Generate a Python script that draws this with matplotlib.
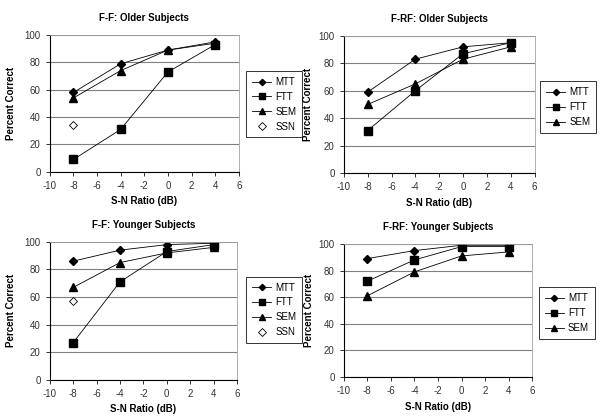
import numpy as np
import matplotlib
matplotlib.use("Agg")
import matplotlib.pyplot as plt

plt.rcParams['font.family'] = ['Liberation Sans', 'DejaVu Sans']
plt.rcParams['axes.unicode_minus'] = False

snr = [-8, -4, 0, 4]

# F-F older
ffo_mtt = [58, 79, 89, 95]
ffo_ftt = [9, 31, 73, 93]
ffo_sem = [54, 74, 89, 94]
ffo_ssn = 34

# F-RF older
fro_mtt = [59, 83, 92, 95]
fro_ftt = [31, 60, 87, 95]
fro_sem = [50, 65, 83, 92]

# F-F younger
ffy_mtt = [86, 94, 98, 99]
ffy_ftt = [27, 71, 93, 98]
ffy_sem = [67, 85, 92, 96]
ffy_ssn = 57

# F-RF younger
fry_mtt = [89, 95, 99, 99]
fry_ftt = [72, 88, 98, 98]
fry_sem = [61, 79, 91, 94]

titles = ["F-F: Older Subjects", "F-RF: Older Subjects",
          "F-F: Younger Subjects", "F-RF: Younger Subjects"]

fig = plt.figure(figsize=(6, 4.17), dpi=100)

axpos = [[0.083, 0.588, 0.315, 0.328],
         [0.573, 0.585, 0.318, 0.329],
         [0.083, 0.089, 0.312, 0.331],
         [0.573, 0.096, 0.314, 0.319]]
legpos = [(0.41, 0.75), (0.9, 0.743), (0.41, 0.257), (0.898, 0.249)]
ylab_x = [-0.18, -0.16, -0.18, -0.16]

series = [(ffo_mtt, ffo_ftt, ffo_sem, ffo_ssn),
          (fro_mtt, fro_ftt, fro_sem, None),
          (ffy_mtt, ffy_ftt, ffy_sem, ffy_ssn),
          (fry_mtt, fry_ftt, fry_sem, None)]

for i in range(4):
    ax = fig.add_axes(axpos[i])
    mtt, ftt, sem, ssn = series[i]
    ax.plot(snr, mtt, '-', color='black', lw=0.6, marker='D', ms=4, label='MTT')
    ax.plot(snr, ftt, '-', color='black', lw=0.6, marker='s', ms=5.5, label='FTT')
    ax.plot(snr, sem, '-', color='black', lw=0.6, marker='^', ms=5.5, label='SEM')
    if ssn is not None:
        ax.plot([-8], [ssn], ls='none', marker='D', ms=4.5, mfc='white',
                mec='black', mew=0.6, label='SSN')
    ax.set_xlim(-10, 6)
    ax.set_ylim(0, 100)
    ax.set_xticks(range(-10, 7, 2))
    ax.set_yticks(range(0, 101, 20))
    ax.yaxis.grid(True, color='#808080', lw=0.8)
    ax.set_axisbelow(True)
    for s in ['top', 'right']:
        ax.spines[s].set_color('#a0a0a0')
        ax.spines[s].set_linewidth(0.6)
    for s in ['left', 'bottom']:
        ax.spines[s].set_color('black')
        ax.spines[s].set_linewidth(0.8)
    ax.tick_params(labelsize=7, length=3, width=0.7, colors='#333333')
    ax.set_title(titles[i], fontsize=7, fontweight='bold', pad=10)
    ax.set_xlabel("S-N Ratio (dB)", fontsize=7, fontweight='bold', labelpad=4)
    ax.set_ylabel("Percent Correct", fontsize=7, fontweight='bold')
    ax.yaxis.set_label_coords(ylab_x[i], 0.5)
    leg = ax.legend(loc='center left', bbox_to_anchor=legpos[i],
                    bbox_transform=fig.transFigure, fontsize=7, frameon=True,
                    fancybox=False, edgecolor='black', handlelength=2.0,
                    borderpad=0.6, labelspacing=0.5, handletextpad=0.4,
                    markerscale=0.8, borderaxespad=0)
    leg.get_frame().set_linewidth(0.7)

fig.savefig("out.png", dpi=100)
